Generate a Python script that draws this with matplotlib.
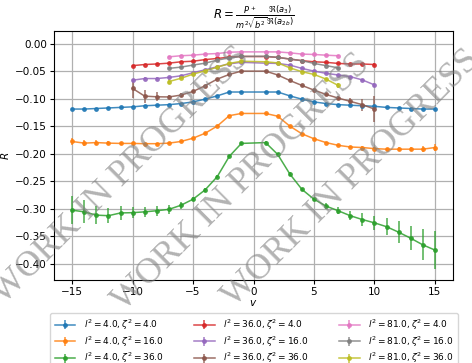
import numpy as np
import matplotlib
matplotlib.use('Agg')
import matplotlib.pyplot as plt
from matplotlib.ticker import MultipleLocator

# v values for each l^2 group (v = 0 is not present)
v_l4 = [-15, -14, -13, -12, -11, -10, -9, -8, -7, -6, -5, -4, -3, -2, -1,
        1, 2, 3, 4, 5, 6, 7, 8, 9, 10, 11, 12, 13, 14, 15]
v_l36 = [-10, -9, -8, -7, -6, -5, -4, -3, -2, -1,
         1, 2, 3, 4, 5, 6, 7, 8, 9, 10]
v_l81 = [-7, -6, -5, -4, -3, -2, -1, 1, 2, 3, 4, 5, 6, 7]

# l^2 = 4
R_4_4 = [-0.119, -0.119, -0.118, -0.117, -0.116, -0.115, -0.113, -0.112, -0.111, -0.109, -0.106, -0.101, -0.095, -0.088, -0.088,
         -0.088, -0.088, -0.095, -0.101, -0.106, -0.109, -0.111, -0.112, -0.113, -0.114, -0.116, -0.117, -0.118, -0.119, -0.119]
E_4_4 = [0.002, 0.002, 0.001, 0.001, 0.001, 0.001, 0.001, 0.001, 0.001, 0.001, 0.001, 0.001, 0.001, 0.001, 0.001,
         0.001, 0.001, 0.001, 0.001, 0.001, 0.001, 0.001, 0.001, 0.001, 0.001, 0.001, 0.001, 0.001, 0.002, 0.002]
R_4_16 = [-0.178, -0.181, -0.180, -0.181, -0.1815, -0.1815, -0.182, -0.182, -0.181, -0.178, -0.172, -0.163, -0.150, -0.131, -0.127,
          -0.127, -0.132, -0.150, -0.164, -0.173, -0.180, -0.185, -0.188, -0.189, -0.191, -0.192, -0.192, -0.192, -0.192, -0.189]
E_4_16 = [0.006, 0.005, 0.004, 0.003, 0.003, 0.002, 0.002, 0.002, 0.002, 0.001, 0.001, 0.001, 0.001, 0.001, 0.001,
          0.001, 0.001, 0.001, 0.001, 0.001, 0.001, 0.001, 0.002, 0.002, 0.003, 0.003, 0.004, 0.004, 0.005, 0.006]
R_4_36 = [-0.303, -0.306, -0.312, -0.313, -0.308, -0.3075, -0.306, -0.304, -0.3015, -0.294, -0.283, -0.266, -0.242, -0.205, -0.1815,
          -0.180, -0.2015, -0.237, -0.265, -0.283, -0.2955, -0.304, -0.313, -0.320, -0.326, -0.333, -0.343, -0.354, -0.366, -0.3755]
E_4_36 = [0.025, 0.021, 0.016, 0.014, 0.012, 0.010, 0.009, 0.009, 0.008, 0.006, 0.004, 0.003, 0.003, 0.002, 0.002,
          0.002, 0.002, 0.003, 0.003, 0.003, 0.005, 0.006, 0.008, 0.011, 0.013, 0.015, 0.020, 0.022, 0.028, 0.035]

# l^2 = 36
R_36_4 = [-0.040, -0.038, -0.037, -0.0355, -0.033, -0.032, -0.029, -0.027, -0.0245, -0.0233,
          -0.0235, -0.025, -0.028, -0.031, -0.033, -0.034, -0.036, -0.037, -0.037, -0.038]
E_36_4 = [0.002, 0.001, 0.001, 0.001, 0.001, 0.001, 0.001, 0.001, 0.001, 0.001,
          0.001, 0.001, 0.001, 0.001, 0.001, 0.001, 0.001, 0.001, 0.001, 0.002]
R_36_16 = [-0.0665, -0.0635, -0.0635, -0.0615, -0.0585, -0.053, -0.0476, -0.042, -0.0367, -0.034,
           -0.0355, -0.036, -0.039, -0.045, -0.050, -0.054, -0.057, -0.060, -0.066, -0.075]
E_36_16 = [0.003, 0.002, 0.002, 0.001, 0.001, 0.001, 0.001, 0.001, 0.001, 0.001,
           0.001, 0.001, 0.001, 0.001, 0.001, 0.001, 0.001, 0.002, 0.002, 0.003]
R_36_36 = [-0.0815, -0.0955, -0.0967, -0.097, -0.0936, -0.087, -0.0765, -0.0645, -0.056, -0.050,
           -0.050, -0.057, -0.067, -0.076, -0.0845, -0.0924, -0.099, -0.105, -0.111, -0.119]
E_36_36 = [0.017, 0.012, 0.008, 0.004, 0.003, 0.002, 0.001, 0.001, 0.001, 0.001,
           0.001, 0.001, 0.001, 0.001, 0.002, 0.002, 0.004, 0.007, 0.011, 0.024]

# l^2 = 81
R_81_4 = [-0.024, -0.022, -0.021, -0.019, -0.018, -0.0155, -0.015,
          -0.015, -0.015, -0.0167, -0.019, -0.0197, -0.021, -0.022]
E_81_4 = [0.001, 0.001, 0.001, 0.001, 0.001, 0.001, 0.001,
          0.001, 0.001, 0.001, 0.001, 0.001, 0.001, 0.001]
R_81_16 = [-0.045, -0.0427, -0.039, -0.0355, -0.030, -0.0258, -0.0233,
           -0.023, -0.025, -0.028, -0.031, -0.036, -0.040, -0.044]
E_81_16 = [0.002, 0.001, 0.001, 0.001, 0.001, 0.001, 0.001,
           0.001, 0.001, 0.001, 0.001, 0.001, 0.001, 0.002]
R_81_36 = [-0.069, -0.063, -0.0555, -0.0494, -0.043, -0.036, -0.032,
           -0.033, -0.035, -0.044, -0.051, -0.056, -0.0645, -0.076]
E_81_36 = [0.004, 0.002, 0.001, 0.001, 0.001, 0.001, 0.001,
           0.001, 0.001, 0.001, 0.001, 0.001, 0.002, 0.005]

series = [
    (4.0, 4.0, v_l4, R_4_4, E_4_4),
    (4.0, 16.0, v_l4, R_4_16, E_4_16),
    (4.0, 36.0, v_l4, R_4_36, E_4_36),
    (36.0, 4.0, v_l36, R_36_4, E_36_4),
    (36.0, 16.0, v_l36, R_36_16, E_36_16),
    (36.0, 36.0, v_l36, R_36_36, E_36_36),
    (81.0, 4.0, v_l81, R_81_4, E_81_4),
    (81.0, 16.0, v_l81, R_81_16, E_81_16),
    (81.0, 36.0, v_l81, R_81_36, E_81_36),
]

fs = 7.5
plt.rcParams['font.size'] = fs

fig = plt.figure(figsize=(4.72, 3.63), dpi=100)
W, H = 472., 363.
ax = fig.add_axes([54 / W, 1 - 280 / H, (453 - 54) / W, (280 - 31) / H])

for l2, z2, v, R, E in series:
    ax.errorbar(v, R, yerr=E, fmt='.-', ms=5, lw=1.1, elinewidth=1.1, alpha=0.85,
                label=r'$l^2 = {0:.1f}, \zeta^2 = {1:.1f}$'.format(l2, z2))

ax.grid(True, color='#b0b0b0', lw=0.9)
ax.set_ylim(-0.43, 0.023)
ax.yaxis.set_major_locator(MultipleLocator(0.05))
ax.set_xlabel(r'$v$', fontsize=fs, labelpad=1)
ax.set_ylabel(r'$R$', fontsize=fs, labelpad=3)
ax.tick_params(labelsize=fs, length=3, pad=2)
ax.set_title(r'$R = \frac{P^+}{m^2\sqrt{b^2}}\frac{\Re(a_3)}{\Re(a_{2b})}$', fontsize=fs + 1, pad=3)

fig.legend(loc='upper center', bbox_to_anchor=(254 / W, 1 - 313 / H), ncol=3, fontsize=6.5,
           columnspacing=3.4, handlelength=2.3, handletextpad=0.9, labelspacing=0.25,
           borderpad=0.5, borderaxespad=0)

# watermark
for cx, cy in [(121, 176), (241, 183), (351, 179)]:
    fig.text(cx / W, 1 - cy / H, 'WORK IN PROGRESS', fontsize=26, family='Liberation Serif',
             color='gray', alpha=0.6, rotation=45, ha='center', va='center', zorder=10)

fig.savefig('out.png', dpi=100)
